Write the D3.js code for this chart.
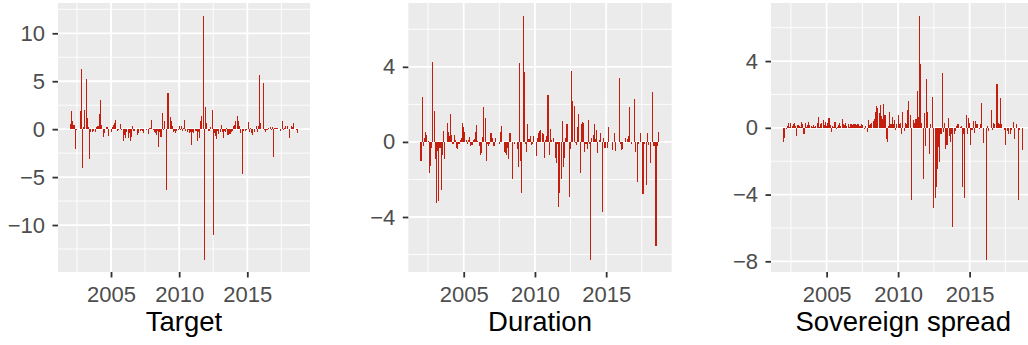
<!DOCTYPE html>
<html><head><meta charset="utf-8">
<script src="https://cdn.jsdelivr.net/npm/d3@7"></script>
<style>
body{margin:0;background:#fff}
svg{display:block}
text{font-family:"Liberation Sans",Arial,Helvetica,sans-serif}
</style>
</head><body>
<svg id="chart" width="1028" height="345"></svg>
<script>
// Monthly observations, Jan 2002 – Sep 2018
const months = d3.timeMonth.range(new Date(2002,0,1), new Date(2018,9,1));

const target = [
0.5,1.9,0.8,0.4,0.4,-2.1,-0.1,0,0,1.9,
6.3,-4.0,0.2,2.0,5.2,1.2,0.2,-3.1,-0.3,0,
-0.3,-0.2,-0.3,0.2,0.3,0.3,1.6,3.0,0.4,-0.8,
-0.4,0,0.25,0.2,-0.7,0,-0.3,0.2,0.4,0.6,
1.0,0,-0.2,-0.1,0.5,-0.1,0,-1.2,-0.6,-0.9,
-0.3,-0.9,-0.4,-1.2,-0.8,0.3,-0.2,-0.2,0,-0.6,
-0.4,0,-0.2,-0.1,-0.2,-0.4,0,-0.1,0,-0.5,
0.1,0.1,1.0,-0.1,-0.3,-0.4,-0.6,-0.2,-1.9,-0.3,
-0.8,1.7,-0.1,0.8,0,-6.3,3.8,3.8,1.3,0.8,
0.3,-0.3,-0.2,-0.4,-0.2,-0.1,0.3,-0.1,0.3,-0.2,
0.1,1.0,-0.2,-0.3,-0.1,-0.4,-0.3,-1.7,-0.3,-0.4,
-0.2,-0.2,-1.2,-0.3,-0.9,0.8,1.4,11.8,-13.6,2.3,
0.6,0,-0.2,-0.2,0.2,2.0,-11.0,-0.4,-0.7,-1.0,
-0.2,-0.5,-0.3,0.45,-0.3,-0.9,-0.2,-0.3,0.1,-0.6,
-0.5,-0.5,-0.3,-0.2,0.3,0.4,0.9,1.4,0.9,0.3,
-0.4,0,-4.7,-0.2,-0.2,-0.1,0,0.7,-0.3,0.1,
-0.4,-0.6,-0.3,0,0.3,-0.3,0.3,5.7,0.6,0,
4.8,-0.1,-0.3,-0.1,-0.1,0.1,0.2,-0.1,0.2,-2.9,
0.1,0.15,0.1,0.15,0,-0.2,0,0.8,-0.1,0.1,
0.3,0.3,0,-0.9,0,0.3,0.2,0.6,0,-0.1,
-0.4
];

const duration = [
-1.0,2.4,-0.2,0.2,0.55,0.35,0.05,-1.65,-1.3,-0.3,
4.25,1.65,-0.9,-3.25,-0.5,-3.15,-0.3,-2.58,-0.7,0.6,
-0.9,0,1.0,0.55,0.3,1.5,0.35,-0.1,0.35,0.1,
-0.3,-0.4,-0.1,0.1,0.2,1.0,0.8,0.55,0.1,-0.1,
0.1,0.25,-0.2,-0.15,0.1,0.15,0.55,0.9,0.05,-0.2,
-0.7,-0.6,0.25,1.85,1.3,-1.0,-0.1,-0.2,-0.1,0.5,
0.2,-0.2,-0.2,0.2,0,0,-0.1,0.55,0.85,0,
-0.55,-0.6,-0.7,-0.3,-0.9,0.45,0,-2.0,0,-0.1,
0,-0.4,-1.35,4.2,-1.0,-2.7,6.7,3.7,-0.1,-0.55,
0.95,0.15,0.3,-0.15,-0.1,0.3,0,-0.75,0.2,0.45,
0.6,0.65,0.45,0.4,-0.85,0.1,0.3,2.5,-0.7,0.7,
0.1,0,0.2,-0.85,-1.15,-0.1,-3.47,-2.7,-2.0,1.1,
-1.35,-0.85,0.2,0.95,0,-2.93,-0.4,3.8,2.2,1.9,
-0.05,-0.15,0.8,1.5,-1.65,0.95,1.05,1.0,-0.55,-0.1,
-0.4,1.15,-0.1,-6.27,0.2,0.35,0.95,0.15,0.65,-0.6,
0.1,0.45,0,-3.73,0.2,-0.3,0,-0.3,0.8,0,
0,-0.45,0,0.45,-0.5,0,0,3.4,-0.1,-0.45,
-0.4,0,0.2,0,0.15,0.3,1.85,-0.1,0,0,
2.3,-0.55,-2.13,-0.1,0,0.5,0,-2.75,-0.1,0,
-2.27,0.5,-0.15,-1.15,0,2.65,-0.2,-0.2,-5.55,-0.2,
0.55
];

const spread = [
-0.85,-0.6,-0.1,0.1,0.3,0.05,0.3,0.1,0.2,0.3,
0.1,-0.48,0.15,0.1,0.05,0.32,0.2,-0.4,0.3,0.05,
0.15,0.35,0.15,0.1,0.05,0.15,0.05,0.1,0.3,0.65,
0.05,0.2,0.3,0.45,0.15,0.35,0.1,0.3,0.6,0.15,
-0.25,0.1,0.05,0.35,-0.1,0.05,0.15,0.3,0.1,0.5,
0.25,0.15,0.3,0.1,0.2,0.05,0.2,0.25,0.15,0.2,
0.25,0.15,0.2,0.25,0.1,0.2,0.15,0,-0.1,0.1,
-0.25,0.45,0.15,0.25,0.3,0.4,0.5,0.95,1.3,1.2,
0.86,1.36,0.7,0.5,1.45,0.76,-0.64,-0.85,0.1,0.95,
0.25,0.66,0.2,0.45,-0.15,0.25,0.76,0.2,0.3,-0.35,
0.95,-0.2,0.3,0.25,1.06,1.6,0.75,-4.3,0,0.45,
0.3,0.5,2.2,0.66,6.7,3.8,0.3,-3.08,0.86,-1.1,
2.9,0.96,-1.56,0.2,0,1.86,-4.78,-4.2,-3.54,-2.44,
-1.14,-2.04,-0.35,3.3,-0.28,0.3,-1.24,-1.04,0.56,-0.5,
-0.84,-0.35,-5.94,-0.35,-0.2,0.1,0.2,0.2,0.05,0.1,
-3.54,-0.35,-4.2,0.75,-0.35,0.56,0.3,-1.04,-0.15,0.4,
-0.34,0.4,0.2,0.25,-0.1,0.2,1.46,0,-0.9,0,
-7.9,0.1,-0.2,0,1.06,-0.15,0.3,0.2,0,2.6,
0.3,0.25,1.76,0.25,0,-0.15,-1.0,0,-0.2,-0.35,
-0.35,-0.15,0,0.36,-0.64,0.2,0,-4.3,-0.15,0,
-1.34
];

const panelTitles = ["Target", "Duration", "Sovereign spread"];
const xTickYears = [2005, 2010, 2015];
const xMinorYears = [2002.5, 2007.5, 2012.5, 2017.5];
const yTicks = [[-10,-5,0,5,10], [-4,0,4], [-8,-4,0,4]];
const yMinor = [[-12.5,-7.5,-2.5,2.5,7.5,12.5], [-6,-2,2,6], [-6,-2,2,6]];
const yDomains = [[-14.9,13.16], [-6.93,7.4], [-8.64,7.48]];
const series = [target, duration, spread];

// layout
const W = 1028, H = 345;
const plotTop = 3, plotBottom = 272;
const panelX = [[58,310],[408.3,671.7],[771,1035.4]];
const xDomain = [2001.11, 2019.6];
const barColor = "#C41F0E";

const svg = d3.select("#chart");
svg.append("rect").attr("width",W).attr("height",H).attr("fill","#fff");

const decYear = d => d.getFullYear() + d.getMonth()/12;

series.forEach((vals, k) => {
  const [l, r] = panelX[k];
  const x = d3.scaleLinear().domain(xDomain).range([l, r]);
  const y = d3.scaleLinear().domain(yDomains[k]).range([plotBottom, plotTop]);
  const g = svg.append("g");

  g.append("rect").attr("x", l).attr("y", plotTop).attr("width", r - l).attr("height", plotBottom - plotTop).attr("fill", "#EBEBEB");

  g.selectAll(".ym").data(yMinor[k].filter(v => v > yDomains[k][0] && v < yDomains[k][1])).join("line")
    .attr("x1", l).attr("x2", r).attr("y1", d => y(d)).attr("y2", d => y(d))
    .attr("stroke", "#fff").attr("stroke-width", 0.9);
  g.selectAll(".xm").data(xMinorYears).join("line")
    .attr("y1", plotTop).attr("y2", plotBottom).attr("x1", d => x(d)).attr("x2", d => x(d))
    .attr("stroke", "#fff").attr("stroke-width", 0.9);
  g.selectAll(".yM").data(yTicks[k]).join("line")
    .attr("x1", l).attr("x2", r).attr("y1", d => y(d)).attr("y2", d => y(d))
    .attr("stroke", "#fff").attr("stroke-width", 1.8);
  g.selectAll(".xM").data(xTickYears).join("line")
    .attr("y1", plotTop).attr("y2", plotBottom).attr("x1", d => x(d)).attr("x2", d => x(d))
    .attr("stroke", "#fff").attr("stroke-width", 1.8);

  const bw = (x(2002 + 0.9/12) - x(2002));
  g.selectAll(".bar").data(vals.map((v, i) => ({d: months[i], v}))).join("rect")
    .attr("x", d => x(decYear(d.d)) - bw/2)
    .attr("width", bw)
    .attr("y", d => Math.min(y(0), y(d.v)))
    .attr("height", d => Math.abs(y(d.v) - y(0)))
    .attr("fill", barColor)
    .attr("shape-rendering", "crispEdges");

  const fmt = d3.format("d");
  const ay = g.append("g").attr("transform", `translate(${l},0)`)
    .call(d3.axisLeft(y).tickValues(yTicks[k]).tickSize(5.5).tickPadding(7.5).tickFormat(fmt));
  const ax = g.append("g").attr("transform", `translate(0,${plotBottom})`)
    .call(d3.axisBottom(x).tickValues(xTickYears).tickSize(5.5).tickPadding(8.4).tickFormat(fmt));
  [ay, ax].forEach(a => {
    a.select(".domain").remove();
    a.selectAll("line").attr("stroke", "#333333").attr("stroke-width", 1.8);
    a.selectAll("text").attr("fill", "#4D4D4D").attr("font-size", 22)
      .attr("font-family", '"Liberation Sans", Arial, sans-serif');
  });

  g.append("text").attr("x", (l + r) / 2).attr("y", 331)
    .attr("text-anchor", "middle").attr("font-size", 27.5).attr("fill", "#000")
    .text(panelTitles[k]);
});
</script>
</body></html>
